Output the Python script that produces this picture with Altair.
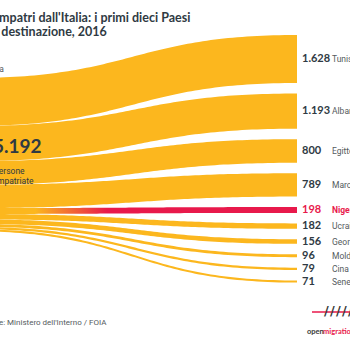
import altair as alt
import numpy as np
import pandas as pd

countries = ["Tunisia", "Albania", "Egitto", "Marocco", "Nigeria",
             "Ucraina", "Georgia", "Moldavia", "Cina", "Senegal"]
values = [1628, 1193, 800, 789, 198, 182, 156, 96, 79, 71]
value_labels = ["1.628", "1.193", "800", "789", "198", "182", "156", "96", "79", "71"]
highlight = "Nigeria"
total_label = "5.192"
title_lines = ["Rimpatri dall'Italia: i primi dieci Paesi", "di destinazione, 2016"]
source_lines = ["persone", "rimpatriate"]
origin_label = "Italia"
footer = "Fonte: Ministero dell'Interno / FOIA"

YEL = "#FCB71E"
RED = "#E8194B"
DARK = "#2F3A43"
GRAY = "#555B60"

# ---- Sankey layout (in value units) ----
GAP = 356          # gap between target nodes, value units
SRC_TOP = 1460     # top of the stacked source node, value units
K = 0.02949        # px per value unit
Y_DOMAIN = [-35 / K, (350 - 35) / K]
X_DOMAIN = [30 / 327, 30 / 327 + 350 / 327]

rows = []
centers = []
s = SRC_TOP
tt = 0.0
ts = np.linspace(0, 1, 80)
for c, v in zip(countries, values):
    u = 1.5 * ts * (1 - ts) + ts ** 3
    f = 3 * ts ** 2 - 2 * ts ** 3
    ytop = s + (tt - s) * f
    for xx, yy in zip(u, ytop):
        rows.append({"country": c, "x": xx, "y": yy, "y2": yy + v})
    centers.append(tt + v / 2)
    s += v
    tt += v + GAP
links = pd.DataFrame(rows)
labels = pd.DataFrame({"country": countries, "label": value_labels,
                       "yc": centers, "x": [1.0] * len(countries)})

xs = alt.Scale(domain=X_DOMAIN, nice=False, zero=False)
ys = alt.Scale(domain=Y_DOMAIN, reverse=True, nice=False, zero=False)

base_links = alt.Chart(links)
flows = base_links.transform_filter(alt.datum.country != highlight).mark_area(
    color=YEL, clip=True, interpolate="linear"
).encode(
    x=alt.X("x:Q", scale=xs, axis=None),
    y=alt.Y("y:Q", scale=ys, axis=None),
    y2="y2:Q",
    detail="country:N",
)
grad = alt.Gradient(
    gradient="linear",
    stops=[alt.GradientStop(offset=0.2, color=YEL),
           alt.GradientStop(offset=0.42, color=RED)],
    x1=0, x2=1, y1=0, y2=0,
)
hl_flow = base_links.transform_filter(alt.datum.country == highlight).mark_area(
    color=grad, clip=True, interpolate="linear"
).encode(
    x=alt.X("x:Q", scale=xs, axis=None),
    y=alt.Y("y:Q", scale=ys, axis=None),
    y2="y2:Q",
    detail="country:N",
)

lab = alt.Chart(labels)
num_txt = lab.mark_text(align="left", baseline="middle", dx=5, font="Lato",
                        fontWeight="bold", fontSize=11).encode(
    x=alt.X("x:Q", scale=xs), y=alt.Y("yc:Q", scale=ys), text="label:N",
    color=alt.condition(alt.datum.country == highlight, alt.value(RED), alt.value(DARK)),
)
name_txt = lab.transform_filter(alt.datum.country != highlight).mark_text(
    align="left", baseline="middle", dx=35, font="Roboto", fontSize=8.5, color=GRAY
).encode(x=alt.X("x:Q", scale=xs), y=alt.Y("yc:Q", scale=ys), text="country:N")
name_hl = lab.transform_filter(alt.datum.country == highlight).mark_text(
    align="left", baseline="middle", dx=35, font="Roboto", fontSize=8.5,
    fontWeight="bold", color=RED
).encode(x=alt.X("x:Q", scale=xs), y=alt.Y("yc:Q", scale=ys), text="country:N")


def fixed(text, x, y, **kw):
    return alt.Chart(pd.DataFrame({"t": [text]})).mark_text(**kw).encode(
        x=alt.value(x), y=alt.value(y), text="t:N")


title1 = fixed(title_lines[0], -12, 22, align="left", baseline="alphabetic",
               font="Lato", fontWeight="bold", fontSize=12.5, color=DARK)
title2 = fixed(title_lines[1], -12, 36, align="left", baseline="alphabetic",
               font="Lato", fontWeight="bold", fontSize=12.5, color=DARK)
orig = fixed(origin_label, 4, 72, align="right", baseline="alphabetic",
             font="Roboto", fontSize=8.5, color=GRAY)
total = fixed(total_label, -7, 153, align="left", baseline="alphabetic",
              font="Lato", fontWeight="bold", fontSize=19, color=DARK)
sub1 = fixed(source_lines[0], -6, 174, align="left", baseline="alphabetic",
             font="Roboto", fontSize=8.5, color=DARK)
sub2 = fixed(source_lines[1], -8, 184, align="left", baseline="alphabetic",
             font="Roboto", fontSize=8.5, color=DARK)
foot = fixed(footer, -17, 325, align="left", baseline="alphabetic",
             font="Roboto", fontSize=8, color=GRAY)

logo_line = alt.Chart(pd.DataFrame({"a": [0]})).mark_rule(color=RED, strokeWidth=1.5).encode(
    x=alt.value(312), x2=alt.value(352), y=alt.value(312))
sl = []
for xx in [324, 330, 336, 342, 348]:
    sl.append(alt.Chart(pd.DataFrame({"t": ["/"]})).mark_text(
        font="DejaVu Sans", fontWeight="bold", fontSize=13, color="#3a3a3a",
        align="left", baseline="middle").encode(x=alt.value(xx), y=alt.value(311), text="t:N"))
logo_open = fixed("open", 307, 334, align="left", baseline="alphabetic",
                  font="Lato", fontWeight="bold", fontSize=7.5, color="#3a3a3a")
logo_mig = fixed("migration", 323, 334, align="left", baseline="alphabetic",
                 font="Lato", fontWeight="bold", fontSize=7.5, color=RED)

chart = alt.layer(
    flows, hl_flow, num_txt, name_txt, name_hl,
    title1, title2, orig, total, sub1, sub2, foot,
    logo_line, *sl, logo_open, logo_mig,
).properties(
    width=350, height=350, padding=0, autosize="none", background="white"
).configure_view(stroke=None)

chart.save("out.html", embed_options={"renderer": "svg", "actions": False})
